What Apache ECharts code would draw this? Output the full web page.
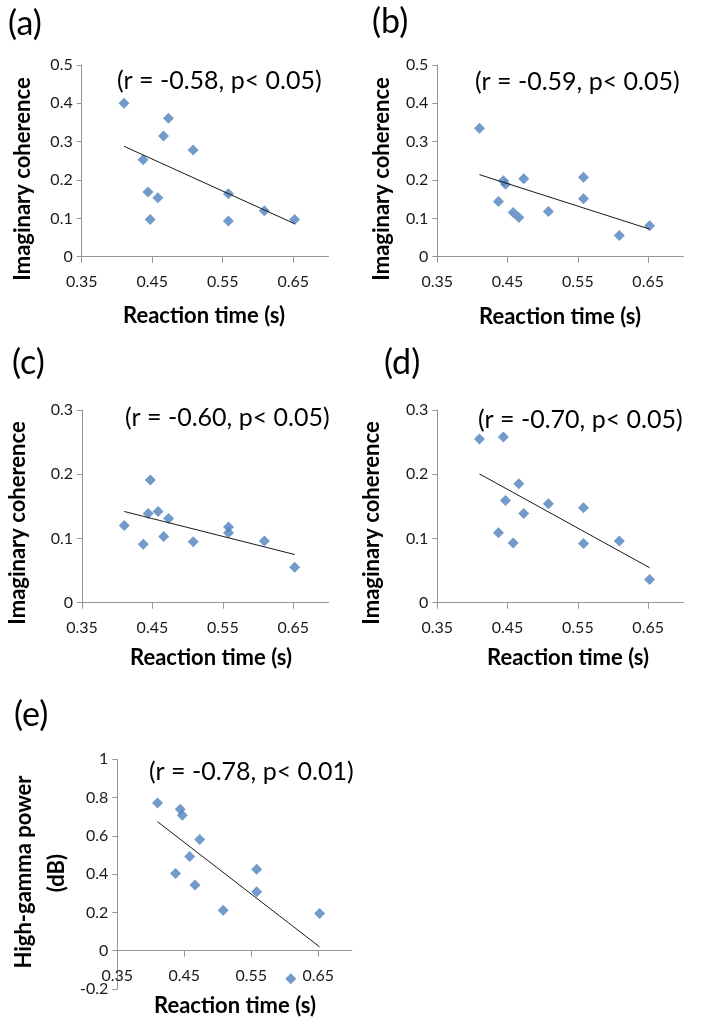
<!DOCTYPE html>
<html>
<head>
<meta charset="utf-8">
<script src="https://cdn.jsdelivr.net/npm/echarts@6/dist/echarts.min.js"></script>
<style>
html,body{margin:0;padding:0;background:#fff;}
#chart{width:704px;height:1024px;}
</style>
</head>
<body>
<div id="chart"></div>
<script>
// Reaction times (s), shared by all panels
const rt = [0.410, 0.437, 0.444, 0.447, 0.458, 0.466, 0.473, 0.508, 0.558, 0.558, 0.609, 0.652];
// Panel values
const icA = [0.400, 0.253, 0.169, 0.097, 0.154, 0.315, 0.361, 0.278, 0.164, 0.093, 0.120, 0.097];
const icB = [0.335, 0.144, 0.198, 0.189, 0.115, 0.102, 0.203, 0.118, 0.207, 0.151, 0.055, 0.081];
const icC = [0.120, 0.091, 0.139, 0.191, 0.142, 0.103, 0.131, 0.095, 0.118, 0.109, 0.096, 0.055];
const icD = [0.255, 0.109, 0.258, 0.159, 0.093, 0.185, 0.139, 0.154, 0.148, 0.092, 0.096, 0.036];
const hgE = [0.772, 0.403, 0.739, 0.708, 0.492, 0.343, 0.581, 0.212, 0.426, 0.308, -0.146, 0.195];
// Trendline endpoints
const trendX = [0.41, 0.652];
const trendA = [0.288, 0.086];
const trendB = [0.214, 0.072];
const trendC = [0.142, 0.075];
const trendD = [0.2005, 0.0545];
const trendE = [0.674, 0.020];
// Tick labels
const xTicks = [0.35, 0.45, 0.55, 0.65];
const panelLabels = ['(a)', '(b)', '(c)', '(d)', '(e)'];
const annotations = ['(r = -0.58, p< 0.05)', '(r = -0.59, p< 0.05)', '(r = -0.60, p< 0.05)', '(r = -0.70, p< 0.05)', '(r = -0.78, p< 0.01)'];
const yTitle = 'Imaginary coherence';
const yTitleE = ['High-gamma power', '(dB)'];
const xTitle = 'Reaction time (s)';

const FONT = 'Lato, "Open Sans", sans-serif';
const panels = [
  {vals: icA, trend: trendA, grid: {left: 81.7, top: 65, width: 246.8, height: 191.7}, ymin: 0, ymax: 0.5, yint: 0.1, xOffset: 0},
  {vals: icB, trend: trendB, grid: {left: 437.3, top: 65, width: 246, height: 191.7}, ymin: 0, ymax: 0.5, yint: 0.1, xOffset: 0},
  {vals: icC, trend: trendC, grid: {left: 82, top: 410, width: 246.5, height: 192.7}, ymin: 0, ymax: 0.3, yint: 0.1, xOffset: 0},
  {vals: icD, trend: trendD, grid: {left: 437.3, top: 410, width: 246, height: 192.7}, ymin: 0, ymax: 0.3, yint: 0.1, xOffset: 0},
  {vals: hgE, trend: trendE, grid: {left: 117.3, top: 759.3, width: 234.5, height: 229.7}, ymin: -0.2, ymax: 1, yint: 0.2, xOffset: -38.3}
];

const axisLineColor = '#969696';
const labelColor = '#1a1a1a';

const option = {
  animation: false,
  backgroundColor: '#fff',
  grid: [], xAxis: [], yAxis: [], series: [], graphic: []
};

panels.forEach((p, i) => {
  option.grid.push(Object.assign({containLabel: false}, p.grid));
  option.xAxis.push({
    type: 'value', gridIndex: i, min: 0.35, max: 0.70, offset: p.xOffset,
    splitLine: {show: false},
    axisLine: {show: true, onZero: false, lineStyle: {color: axisLineColor, width: 1}},
    axisTick: {show: true, inside: false, length: 6, customValues: xTicks, lineStyle: {color: axisLineColor}},
    axisLabel: {customValues: xTicks, margin: 17, fontSize: 16, fontFamily: FONT, color: labelColor,
      formatter: v => v.toFixed(2)}
  });
  option.yAxis.push({
    type: 'value', gridIndex: i, min: p.ymin, max: p.ymax, interval: p.yint,
    splitLine: {show: false},
    axisLine: {show: true, onZero: false, lineStyle: {color: axisLineColor, width: 1}},
    axisTick: {show: true, length: 5, lineStyle: {color: axisLineColor}},
    axisLabel: {margin: 9, fontSize: 16, fontFamily: FONT, color: labelColor,
      formatter: v => String(parseFloat(v.toFixed(2)))}
  });
  option.series.push({
    type: 'line', xAxisIndex: i, yAxisIndex: i, symbol: 'none', silent: true,
    lineStyle: {color: '#1a1a1a', width: 1},
    data: trendX.map((x, k) => [x, p.trend[k]])
  });
  option.series.push({
    type: 'scatter', xAxisIndex: i, yAxisIndex: i, symbol: 'diamond', symbolSize: 11,
    itemStyle: {color: '#4F81BD'},
    data: rt.map((x, k) => [x, p.vals[k]])
  });
});

function txt(text, x, y, size, opts) {
  opts = opts || {};
  return {
    type: 'text', x: x, y: y, rotation: opts.rot || 0, silent: true,
    style: {text: text, fontSize: size, fontFamily: FONT, fontWeight: opts.bold ? 'bold' : 'normal',
      fill: '#000', align: opts.align || 'left', verticalAlign: 'middle'}
  };
}

// Panel letters
const letterPos = [[8, 24], [372, 22], [12, 363], [384, 363], [14, 715]];
letterPos.forEach((pos, i) => option.graphic.push(txt(panelLabels[i], pos[0], pos[1], 34)));
// Correlation annotations
const annPos = [[117, 81], [475, 82], [125, 418], [478, 420], [149, 772]];
annPos.forEach((pos, i) => option.graphic.push(txt(annotations[i], pos[0], pos[1], 25)));
// Y titles
const yTitlePos = [[23, 179], [382, 179], [18, 523], [372, 523]];
yTitlePos.forEach(pos => option.graphic.push(txt(yTitle, pos[0], pos[1], 22, {bold: true, align: 'center', rot: Math.PI / 2})));
option.graphic.push(txt(yTitleE[0], 24, 872, 22, {bold: true, align: 'center', rot: Math.PI / 2}));
option.graphic.push(txt(yTitleE[1], 57, 873, 22, {bold: true, align: 'center', rot: Math.PI / 2}));
// X titles
const xTitlePos = [[204, 316], [560, 317], [211, 658], [568, 658], [235, 1006]];
xTitlePos.forEach(pos => option.graphic.push(txt(xTitle, pos[0], pos[1], 22, {bold: true, align: 'center'})));

const chart = echarts.init(document.getElementById('chart'), null, {renderer: 'canvas'});
chart.setOption(option);
</script>
</body>
</html>
